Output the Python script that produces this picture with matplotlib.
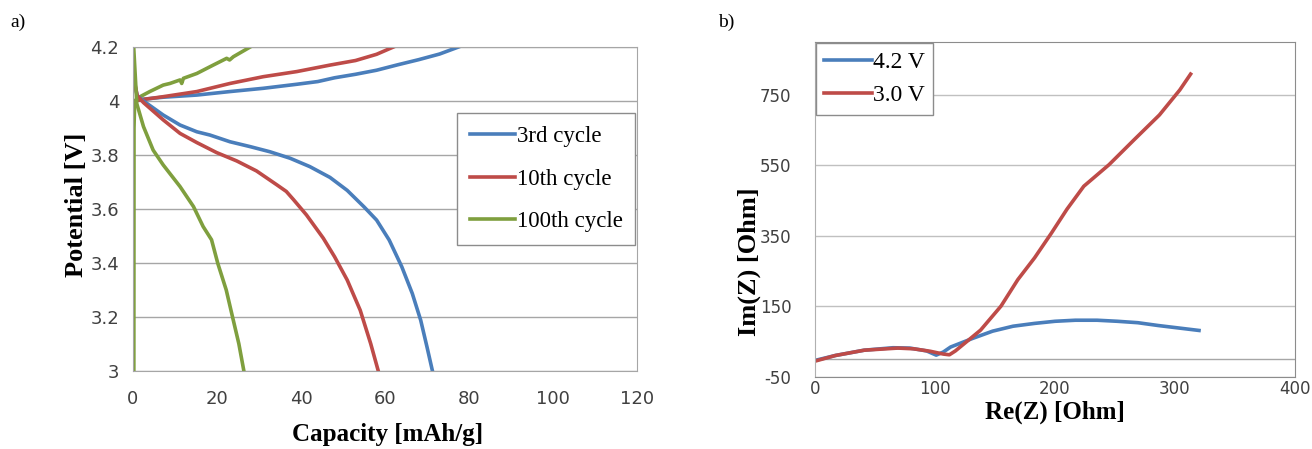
import matplotlib.pyplot as plt

plt.rcParams['axes.unicode_minus'] = False

# ---- panel a : charge / discharge curves ----
cap3_ch = [0, 2.0, 7.2, 15.2, 23.1, 31, 39, 44, 48, 53, 58, 63, 68, 73, 77.5]
v3_ch = [4.0, 4.006, 4.014, 4.022, 4.035, 4.047, 4.062, 4.072, 4.086, 4.099, 4.114, 4.134, 4.153, 4.174, 4.2]
cap3_dis = [0, 1.0, 2.5, 7.2, 11.2, 15.2, 18.3, 23.1, 27.9, 32.6, 37.4, 42.1, 46.9, 51, 55, 58, 61, 64,
            66.5, 68.5, 70, 71.3]
v3_dis = [4.09, 4.02, 4.0, 3.948, 3.911, 3.886, 3.874, 3.849, 3.831, 3.812, 3.788, 3.757, 3.717, 3.669,
          3.608, 3.559, 3.485, 3.386, 3.287, 3.188, 3.089, 3.0]

cap10_ch = [0, 1.7, 7.2, 15.2, 23.1, 31, 39, 46.9, 53, 58, 62]
v10_ch = [4.0, 4.004, 4.016, 4.035, 4.065, 4.09, 4.109, 4.133, 4.15, 4.173, 4.2]
cap10_dis = [0, 1.0, 2.5, 7.2, 11.2, 15.2, 19.9, 24.7, 29.4, 34.2, 36.5, 38.2, 41.3, 45.3, 48, 51, 54.1,
             56.6, 58.4]
v10_dis = [4.1, 4.02, 3.994, 3.93, 3.88, 3.846, 3.809, 3.778, 3.741, 3.69, 3.665, 3.635, 3.578, 3.492,
           3.423, 3.337, 3.225, 3.101, 3.0]

cap100_ch = [0.2, 0.24, 0.4, 1.7, 4.0, 7.2, 8.8, 11.2, 11.6, 12.0, 15.2, 19.1, 22.3, 23.0, 23.9, 27.9]
v100_ch = [3.0, 3.9, 4.0, 4.016, 4.035, 4.059, 4.065, 4.078, 4.065, 4.084, 4.102, 4.133, 4.158, 4.152,
           4.164, 4.2]
cap100_dis = [0.2, 0.9, 2.5, 4.8, 7.2, 11.2, 14.4, 16.7, 18.7, 20.2, 22.2, 23.7, 25.2, 26.4]
v100_dis = [4.19, 3.99, 3.905, 3.818, 3.763, 3.683, 3.609, 3.535, 3.486, 3.398, 3.3, 3.2, 3.101, 3.0]

cycle_names = ["3rd cycle", "10th cycle", "100th cycle"]

# ---- panel b : Nyquist ----
re_42 = [0, 17, 41, 65, 79, 93, 101, 107, 113, 131, 148, 165, 183, 200, 217, 235, 252, 269, 286, 303, 320]
im_42 = [-3, 11, 26, 33, 32, 24, 12, 21, 35, 59, 80, 94, 102, 108, 111, 111, 108, 104, 96, 89, 82]
re_30 = [0, 17, 41, 69, 82, 96, 107, 112, 117, 127, 138, 148, 155, 169, 183, 197, 210, 224, 245, 266, 287,
         304, 313]
im_30 = [-5, 11, 26, 32, 30, 23, 15, 13, 24, 52, 83, 123, 151, 226, 288, 358, 426, 491, 552, 623, 693,
         764, 809]
volt_names = ["4.2 V", "3.0 V"]

blue, red, green = "#4A7EBB", "#BE4B48", "#7F9F3E"
grid_c = "#a6a6a6"
tick_c = "#404040"
serif = ["Liberation Serif", "DejaVu Serif"]

fig = plt.figure(figsize=(13.12, 4.49), dpi=100)

# panel a
axa = fig.add_axes([133 / 1312, 1 - 371 / 449, 504 / 1312, 324 / 449])
lw = 2.6
axa.plot(cap3_ch, v3_ch, color=blue, lw=lw, label=cycle_names[0])
axa.plot(cap10_ch, v10_ch, color=red, lw=lw, label=cycle_names[1])
axa.plot(cap100_ch, v100_ch, color=green, lw=lw, label=cycle_names[2])
axa.plot(cap3_dis, v3_dis, color=blue, lw=lw)
axa.plot(cap10_dis, v10_dis, color=red, lw=lw)
axa.plot(cap100_dis, v100_dis, color=green, lw=lw)
axa.set_xlim(0, 120)
axa.set_ylim(3, 4.2)
axa.set_xticks(range(0, 121, 20))
axa.set_yticks([3, 3.2, 3.4, 3.6, 3.8, 4.0, 4.2])
axa.set_yticklabels(["3", "3.2", "3.4", "3.6", "3.8", "4", "4.2"])
axa.yaxis.grid(True, color=grid_c, lw=1)
axa.set_axisbelow(True)
for s in axa.spines.values():
    s.set_color(grid_c)
axa.tick_params(length=0, labelsize=13, colors=tick_c)
axa.tick_params(axis="x", pad=14)
axa.tick_params(axis="y", pad=10)
leg = axa.legend(loc="upper right", bbox_to_anchor=(0.996, 0.796), prop={"family": serif, "size": 16.5},
                 frameon=True, fancybox=False, edgecolor="#8c8c8c", framealpha=1,
                 handlelength=2.0, handletextpad=0.05, labelspacing=0.95, borderpad=0.55, borderaxespad=0)
leg.get_frame().set_linewidth(1)

fig.text(388 / 1312, 1 - 435 / 449, "Capacity [mAh/g]", ha="center", va="center",
         family=serif, weight="bold", fontsize=18)
fig.text(76 / 1312, 1 - 205 / 449, "Potential [V]", ha="center", va="center", rotation=90,
         family=serif, weight="bold", fontsize=19)
fig.text(10 / 1312, 1 - 22 / 449, "a)", ha="left", va="center", family=serif, fontsize=14)

# panel b
axb = fig.add_axes([815 / 1312, 1 - 377 / 449, 480 / 1312, 335 / 449])
axb.axhline(0, color=grid_c, lw=1, zorder=1)
axb.plot(re_42, im_42, color=blue, lw=lw, label=volt_names[0])
axb.plot(re_30, im_30, color=red, lw=lw, label=volt_names[1])
axb.set_xlim(0, 400)
axb.set_ylim(-50, 900)
axb.set_xticks(range(0, 401, 100))
axb.set_yticks([-50, 150, 350, 550, 750])
axb.yaxis.grid(True, color="#c0c0c0", lw=1)
axb.set_axisbelow(True)
for s in axb.spines.values():
    s.set_color("#8c8c8c")
axb.spines["left"].set_color("#b0b0b0")
axb.tick_params(length=0, labelsize=12, colors=tick_c)
axb.tick_params(axis="x", pad=2)
axb.tick_params(axis="y", pad=17)
legb = axb.legend(loc="upper left", prop={"family": serif, "size": 17}, frameon=True, fancybox=False,
                  edgecolor="#8c8c8c", framealpha=1, handlelength=2.0, handletextpad=0.05,
                  labelspacing=0.5, borderpad=0.35, borderaxespad=0.05)
legb.get_frame().set_linewidth(1)

fig.text(1055 / 1312, 1 - 412 / 449, "Re(Z) [Ohm]", ha="center", va="center",
         family=serif, weight="bold", fontsize=18)
fig.text(749 / 1312, 1 - 262 / 449, "Im(Z) [Ohm]", ha="center", va="center", rotation=90,
         family=serif, weight="bold", fontsize=19)
fig.text(718 / 1312, 1 - 22 / 449, "b)", ha="left", va="center", family=serif, fontsize=14)

fig.savefig("out.png", dpi=100, facecolor="white")
